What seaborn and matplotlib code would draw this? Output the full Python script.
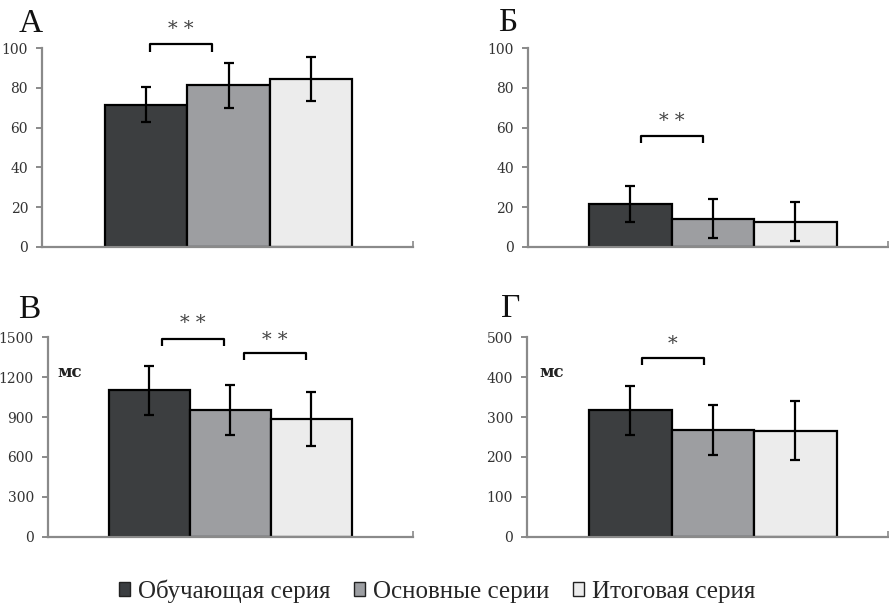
import matplotlib
matplotlib.use("Agg")
import matplotlib.pyplot as plt
from matplotlib.patches import Patch
import seaborn as sns
import pandas as pd

sns.set_style("white")
plt.rcParams['font.family'] = ['Liberation Serif', 'DejaVu Serif']

series = ["Обучающая серия", "Основные серии", "Итоговая серия"]
colors = ["#3b3e41", "#9c9ea2", "#ececec"]

panel_letters = ["А", "Б", "В", "Г"]
vals_A = [71.5, 81.2, 84.4]
err_A = [8.8, 11.1, 11.0]
vals_B = [21.6, 14.3, 12.8]
err_B = [9.0, 9.6, 9.8]
vals_C = [1100, 953, 883]
err_C = [182, 190, 202]
vals_D = [317, 268, 266]
err_D = [62, 62, 74]

yticks_A = [0, 20, 40, 60, 80, 100]
yticks_C = [0, 300, 600, 900, 1200, 1500]
yticks_D = [0, 100, 200, 300, 400, 500]

# significance brackets: (x_start, x_end, y_top, y_bottom, label, y_label)
sig_A = [(0.05, 0.80, 102, 98, "**", 109.5)]
sig_B = [(0.13, 0.88, 56, 52.4, "**", 63.5)]
sig_C = [(0.15, 0.92, 1485, 1432, "**", 1605), (1.17, 1.93, 1384, 1329, "**", 1480)]
sig_D = [(0.14, 0.89, 449, 430.5, "*", 482)]

W, H = 889, 611
fig = plt.figure(figsize=(W / 100, H / 100), dpi=100)

panels = [
    dict(box=(42, 413, 48, 247), vals=vals_A, err=err_A, yt=yticks_A, sig=sig_A,
         xlim=(-1.265, 3.24), letter=(19, 32), unit=None),
    dict(box=(527.7, 888, 48, 247), vals=vals_B, err=err_B, yt=yticks_A, sig=sig_B,
         xlim=(-1.242, 3.12), letter=(498, 31), unit=None),
    dict(box=(47.7, 413, 337.3, 536.7), vals=vals_C, err=err_C, yt=yticks_C, sig=sig_C,
         xlim=(-1.257, 3.257), letter=(18, 318), unit=(57, 372.7)),
    dict(box=(526.7, 888, 337.3, 536.7), vals=vals_D, err=err_D, yt=yticks_D, sig=sig_D,
         xlim=(-1.254, 3.12), letter=(501, 317), unit=(539, 372.7)),
]

spine_col = "#8a8a8a"
for letter, p in zip(panel_letters, panels):
    l, r, t, b = p["box"]
    ax = fig.add_axes([l / W, 1 - b / H, (r - l) / W, (b - t) / H])
    df = pd.DataFrame({"series": series, "value": p["vals"]})
    sns.barplot(data=df, x="series", y="value", hue="series", palette=colors,
                order=series, hue_order=series, width=1.0, edgecolor="black",
                linewidth=1.6, ax=ax, legend=False, errorbar=None)
    bars = ax.patches[:3]
    xs = [bb.get_x() + bb.get_width() / 2 for bb in bars]
    ax.errorbar(xs, p["vals"], yerr=p["err"], fmt="none", ecolor="black",
                elinewidth=1.6, capsize=3.5, capthick=1.6, zorder=5)
    ax.set_xlim(*p["xlim"])
    ax.set_ylim(p["yt"][0], p["yt"][-1])
    ax.set_yticks(p["yt"])
    ax.set_yticklabels([str(v) for v in p["yt"]], fontfamily="DejaVu Serif")
    ax.set_xticks([p["xlim"][1]])
    ax.set_xticklabels([])
    ax.set_xlabel("")
    ax.set_ylabel("")
    for s in ["top", "right"]:
        ax.spines[s].set_visible(False)
    for s in ["left", "bottom"]:
        ax.spines[s].set_color(spine_col)
        ax.spines[s].set_linewidth(1.6)
    ax.tick_params(axis="y", direction="out", length=4, width=1.4, color=spine_col,
                   labelsize=10, labelcolor="#333333", pad=6, left=True)
    ax.tick_params(axis="x", direction="in", length=4, width=1.2, color=spine_col, bottom=True)
    for (x0, x1, yt, yb, lab, ylab) in p["sig"]:
        ax.plot([x0, x0, x1, x1], [yb, yt, yt, yb], color="black", lw=1.6,
                clip_on=False, solid_capstyle="butt")
        ax.text((x0 + x1) / 2, ylab, lab.replace("**", "* *"), ha="center", va="center",
                fontsize=14, color="#444444", clip_on=False, fontfamily="DejaVu Serif")
    lx, ly = p["letter"]
    fig.text(lx / W, 1 - ly / H, letter, fontsize=24, ha="left", va="baseline", color="#111111")
    if p["unit"] is not None:
        ux, uy = p["unit"]
        fig.text(ux / W, 1 - uy / H, "мс", fontsize=12, ha="left", va="center",
                 color="#222222", fontweight="bold", fontfamily="DejaVu Serif")

handles = [Patch(facecolor=c, edgecolor="#222222", linewidth=1.0) for c in colors]
fig.legend(handles, series, loc="center", bbox_to_anchor=(437 / W, 1 - 591 / H), ncol=3,
           frameon=False, fontsize=18, handlelength=0.45, handleheight=0.45,
           handletextpad=0.3, columnspacing=0.95, borderpad=0.2)

fig.savefig("out.png", dpi=100)
